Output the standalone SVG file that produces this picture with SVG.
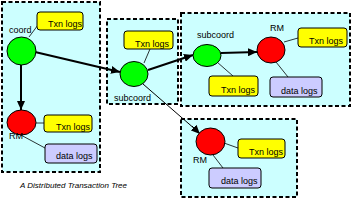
<svg xmlns="http://www.w3.org/2000/svg" width="353" height="203" viewBox="0 0 353 203">
<style>
.box{fill:#ccffff;stroke:#000;stroke-width:2;stroke-dasharray:4 2.5}
.coord{fill:#00ff00;stroke:#000;stroke-width:1}
.rm{fill:#ff0000;stroke:#000;stroke-width:1}
.txn{fill:#ffff00;stroke:#000;stroke-width:1}
.data{fill:#ccccff;stroke:#000;stroke-width:1}
.thin{stroke:#000;stroke-width:0.8;fill:none}
.arrow{stroke:#000;stroke-width:2;fill:none;marker-end:url(#ah)}
text{font-family:"Liberation Sans",Arial,sans-serif;font-size:9px;fill:#000}
.cap{font-size:8px;font-style:italic}
</style>
<defs>
<marker id="ah" markerUnits="userSpaceOnUse" markerWidth="10" markerHeight="8" refX="9" refY="4" orient="auto">
<path d="M0,0 L9,4 L0,8 Z" fill="#000"/>
</marker>
</defs>
<g id="boxes">
<rect class="box" x="2" y="2" width="98" height="170"/>
<rect class="box" x="107" y="19" width="71" height="85"/>
<rect class="box" x="181" y="13" width="169" height="93"/>
<rect class="box" x="181" y="119" width="116" height="78"/>
</g>
<g id="connectors">
<line class="thin" x1="29" y1="37" x2="38" y2="25"/>
<line class="thin" x1="36" y1="123" x2="44" y2="123"/>
<line class="thin" x1="19" y1="134" x2="45" y2="148"/>
<line class="thin" x1="144" y1="63" x2="150" y2="49"/>
<line class="thin" x1="217" y1="62" x2="233" y2="76"/>
<line class="thin" x1="284" y1="42" x2="298" y2="38"/>
<line class="thin" x1="276" y1="62" x2="288" y2="77"/>
<line class="thin" x1="224" y1="143" x2="238" y2="148"/>
<line class="thin" x1="213" y1="155" x2="223" y2="168"/>
<line class="arrow" x1="21" y1="65" x2="21" y2="110"/>
<line class="arrow" x1="35" y1="52" x2="120" y2="72"/>
<line class="arrow" x1="148" y1="70" x2="193" y2="55"/>
<line class="arrow" x1="221" y1="53" x2="257" y2="52"/>
<line class="thin" x1="143" y1="84" x2="196" y2="130" style="stroke-width:1"/>
<line class="arrow" x1="192" y1="126" x2="200" y2="134" style="stroke-width:1"/>
</g>
<g id="coord">
<ellipse class="coord" cx="21.5" cy="51" rx="14.5" ry="14"/>
<text x="9" y="33">coord</text>
<rect class="txn" x="37" y="12" width="46" height="18" rx="3"/>
<text x="48" y="27">Txn logs</text>
</g>
<g id="rm1">
<ellipse class="rm" cx="21.5" cy="122.5" rx="14.5" ry="12.5"/>
<text x="9" y="139">RM</text>
<rect class="txn" x="44" y="115" width="48" height="17" rx="3"/>
<text x="56" y="130">Txn logs</text>
<rect class="data" x="45" y="144" width="52" height="19" rx="3"/>
<text x="56" y="159">data logs</text>
</g>
<g id="subcoord1">
<ellipse class="coord" cx="134" cy="74" rx="14" ry="12.5"/>
<text x="114" y="101">subcoord</text>
<rect class="txn" x="124" y="31" width="49" height="18" rx="3"/>
<text x="135" y="47">Txn logs</text>
</g>
<g id="subcoord2">
<ellipse class="coord" cx="207" cy="55.5" rx="14" ry="11"/>
<text x="197" y="38">subcoord</text>
<rect class="txn" x="209" y="76" width="49" height="20" rx="3"/>
<text x="221" y="93">Txn logs</text>
</g>
<g id="rm2">
<ellipse class="rm" cx="271" cy="50" rx="14" ry="13"/>
<text x="270" y="31">RM</text>
<rect class="txn" x="298" y="28" width="49" height="19" rx="3"/>
<text x="309" y="44">Txn logs</text>
<rect class="data" x="270" y="77" width="52" height="20" rx="3"/>
<text x="281" y="94">data logs</text>
</g>
<g id="rm3">
<ellipse class="rm" cx="210.5" cy="141.5" rx="14.5" ry="13.5"/>
<text x="193" y="163">RM</text>
<rect class="txn" x="238" y="139" width="47" height="19" rx="3"/>
<text x="249" y="155">Txn logs</text>
<rect class="data" x="209" y="168" width="52" height="20" rx="3"/>
<text x="221" y="184">data logs</text>
</g>
<text class="cap" x="20" y="188">A Distributed Transaction Tree</text>
</svg>
